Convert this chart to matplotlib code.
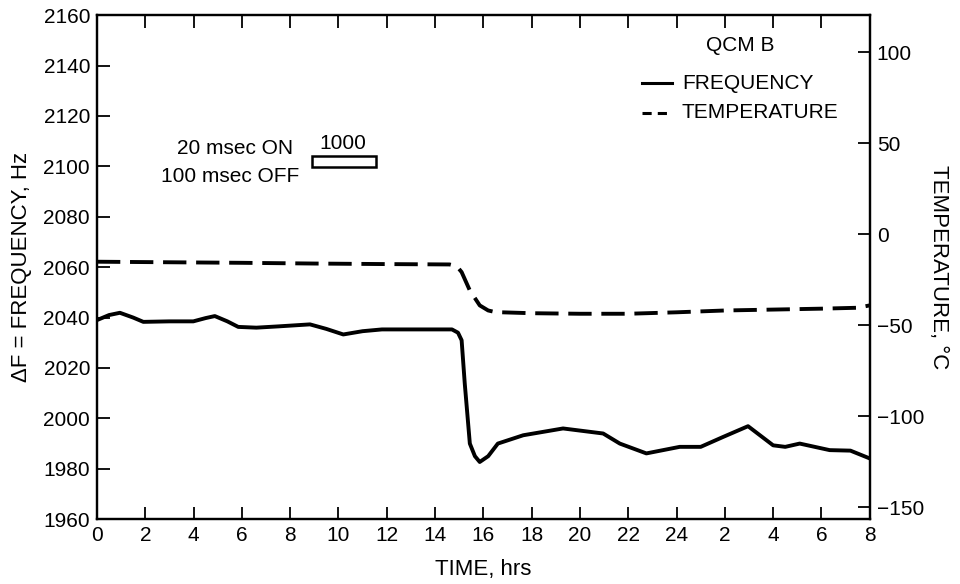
import matplotlib
matplotlib.use("Agg")
import matplotlib.pyplot as plt
from matplotlib.patches import Rectangle

plt.rcParams["font.family"] = ["Liberation Sans", "DejaVu Sans"]

# frequency trace (hours from start, Hz)
freq_t = [0, 0.5, 0.95, 1.5, 1.92, 3.0, 3.99, 4.5, 4.88, 5.4, 5.85, 6.6, 7.5,
          8.82, 9.5, 10.2, 11.0, 11.8, 13.0, 14.7, 14.95, 15.1, 15.23, 15.44,
          15.65, 15.85, 16.2, 16.6, 17.65, 19.3, 20.96, 21.65, 22.75, 24.13,
          25.0, 25.92, 26.96, 28.0, 28.5, 29.1, 30.34, 31.2, 32]
freq_hz = [2039, 2041, 2041.9, 2040, 2038.3, 2038.5, 2038.5, 2039.8, 2040.6,
           2038.5, 2036.3, 2036, 2036.5, 2037.3, 2035.5, 2033.3, 2034.6, 2035.3,
           2035.3, 2035.3, 2034, 2031, 2013.8, 1990, 1985, 1982.7, 1985, 1990,
           1993.3, 1996, 1994, 1990, 1986.1, 1988.7, 1988.7, 1992.6, 1996.9,
           1989.3, 1988.7, 1990, 1987.4, 1987.2, 1984.1]

# temperature trace (hours, deg C)
temp_t = [0, 3, 6, 9, 12, 14.6, 14.9, 15.1, 15.44, 15.85, 16.2, 16.5, 18, 20,
          22, 24, 26, 28, 30, 31.5, 32]
temp_c = [-15, -15.3, -15.6, -16, -16.3, -16.5, -17.5, -20.7, -30.8, -39,
          -41.8, -42.7, -43.3, -43.6, -43.6, -42.8, -41.8, -41.3, -40.8, -40.3,
          -39]

x_ticks = list(range(0, 33, 2))
x_labels = ["0", "2", "4", "6", "8", "10", "12", "14", "16", "18", "20", "22",
            "24", "2", "4", "6", "8"]
freq_ticks = list(range(1960, 2161, 20))
temp_ticks = [-150, -100, -50, 0, 50, 100]

fig = plt.figure(figsize=(9.6, 5.84), dpi=100)
ax = fig.add_axes([0.101, 0.111, 0.805, 0.863])
ax2 = ax.twinx()

ax.plot(freq_t, freq_hz, color="black", lw=2.8, solid_capstyle="round",
        solid_joinstyle="round")
ax2.plot(temp_t, temp_c, color="black", lw=2.8, dashes=(6, 2.5))

ax.set_xlim(0, 32)
ax.set_ylim(1960, 2160)
ax2.set_ylim(-156.5, 120.5)

ax.set_xticks(x_ticks)
ax.set_xticklabels(x_labels)
ax.set_yticks(freq_ticks)
ax2.set_yticks(temp_ticks)

ax.tick_params(axis="both", direction="in", length=9, width=1.3,
               labelsize=15, top=True, pad=5)
ax2.tick_params(axis="y", direction="in", length=9, width=1.3,
                labelsize=15, pad=5)
for sp in ax.spines.values():
    sp.set_linewidth(1.6)
for sp in ax2.spines.values():
    sp.set_linewidth(1.6)

ax.set_xlabel("TIME, hrs", fontsize=16, labelpad=10)
ax.set_ylabel("ΔF = FREQUENCY, Hz", fontsize=16, labelpad=8)
ax2.set_ylabel("TEMPERATURE, °C", fontsize=16, rotation=-90, labelpad=18)

# annotations
tr = ax.transAxes
ax.text(0.832, 0.94, "QCM B", transform=tr, fontsize=15, ha="center",
        va="center")
ax.plot([0.705, 0.744], [0.865, 0.865], transform=tr, color="black", lw=2.2)
ax.plot([0.705, 0.744], [0.806, 0.806], transform=tr, color="black", lw=2.2,
        dashes=(3, 2))
ax.text(0.757, 0.865, "FREQUENCY", transform=tr, fontsize=15, va="center")
ax.text(0.757, 0.806, "TEMPERATURE", transform=tr, fontsize=15, va="center")

ax.text(0.254, 0.736, "20 msec ON", transform=tr, fontsize=15, ha="right",
        va="center")
ax.text(0.262, 0.679, "100 msec OFF", transform=tr, fontsize=15, ha="right",
        va="center")
ax.add_patch(Rectangle((0.278, 0.698), 0.083, 0.022, transform=tr,
                       fill=False, lw=1.8, ec="black"))
ax.text(0.318, 0.726, "1000", transform=tr, fontsize=15, ha="center",
        va="bottom")

fig.savefig("out.png", dpi=100)
